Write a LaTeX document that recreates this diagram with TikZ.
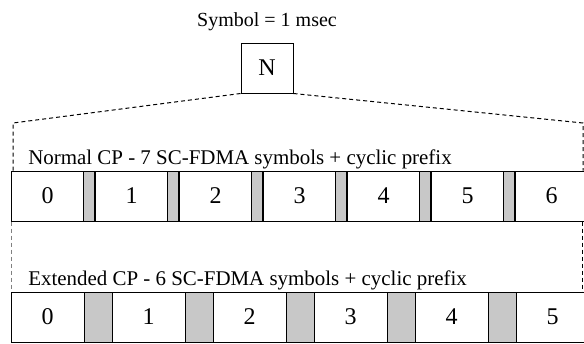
\documentclass[tikz,border=0pt]{standalone}
\usepackage{fontspec}
\setmainfont{Liberation Serif}
\begin{document}
\begin{tikzpicture}[x=0.75pt,y=-0.75pt,
  symbox/.style={draw=black,line width=0.75pt,fill=white,minimum width=54.75pt,minimum height=37.5pt,inner sep=0pt,font=\fontsize{18}{20}\selectfont},
  cpbox/.style={draw=black,line width=0.75pt,fill=cpgray,minimum height=37.5pt,inner sep=0pt},
  guide/.style={dashed,dash pattern=on 3pt off 2.25pt,line width=0.75pt},
  lbl/.style={font=\fontsize{15}{17}\selectfont,inner sep=0pt},
  rowlbl/.style={font=\fontsize{15.7}{18}\selectfont,inner sep=0pt,anchor=base west}]
\definecolor{cpgray}{RGB}{200,200,200}
\useasboundingbox (0,0) rectangle (584,343);
\clip (0,0) rectangle (584,343);

% one symbol
\node[lbl,anchor=base] (title) at (267,26) {Symbol = 1 msec};
\node[symbox,minimum width=39pt] (N) at (267,68) {N};

% normal cyclic prefix: 7 symbols, short prefixes
\node[rowlbl] (nlbl) at (28,164.5) {Normal CP - 7 SC-FDMA symbols + cyclic prefix};
\foreach \i in {0,...,6} {
  \node[symbox] (a\i) at ({47.5+84*\i},196) {\i};
}
\foreach \i in {0,...,5} {
  \node[cpbox,minimum width=8.25pt] (ap\i) at ({88.5+84*\i},196) {};
}

% extended cyclic prefix: 6 symbols, long prefixes
\node[rowlbl] (elbl) at (28,285) {Extended CP - 6 SC-FDMA symbols + cyclic prefix};
\foreach \i in {0,...,5} {
  \node[symbox] (b\i) at ({47.5+101*\i},317) {\i};
}
\foreach \i in {0,...,4} {
  \node[cpbox,minimum width=21pt] (bp\i) at ({98+101*\i},317) {};
}

% expansion guides
\coordinate (lt) at (13,123);
\coordinate (rt) at (583,123);
\draw[guide] (N.south west) -- (lt) -- (lt |- a0.north);
\draw[guide] (N.south east) -- (rt) -- (rt |- a6.north);
\coordinate (lb) at (11,290);
\coordinate (rb) at (582,292);
\draw[guide,gray] (lb |- a0.south) -- (lb);
\draw[guide] (rb |- a6.south) -- (rb);
\end{tikzpicture}
\end{document}
